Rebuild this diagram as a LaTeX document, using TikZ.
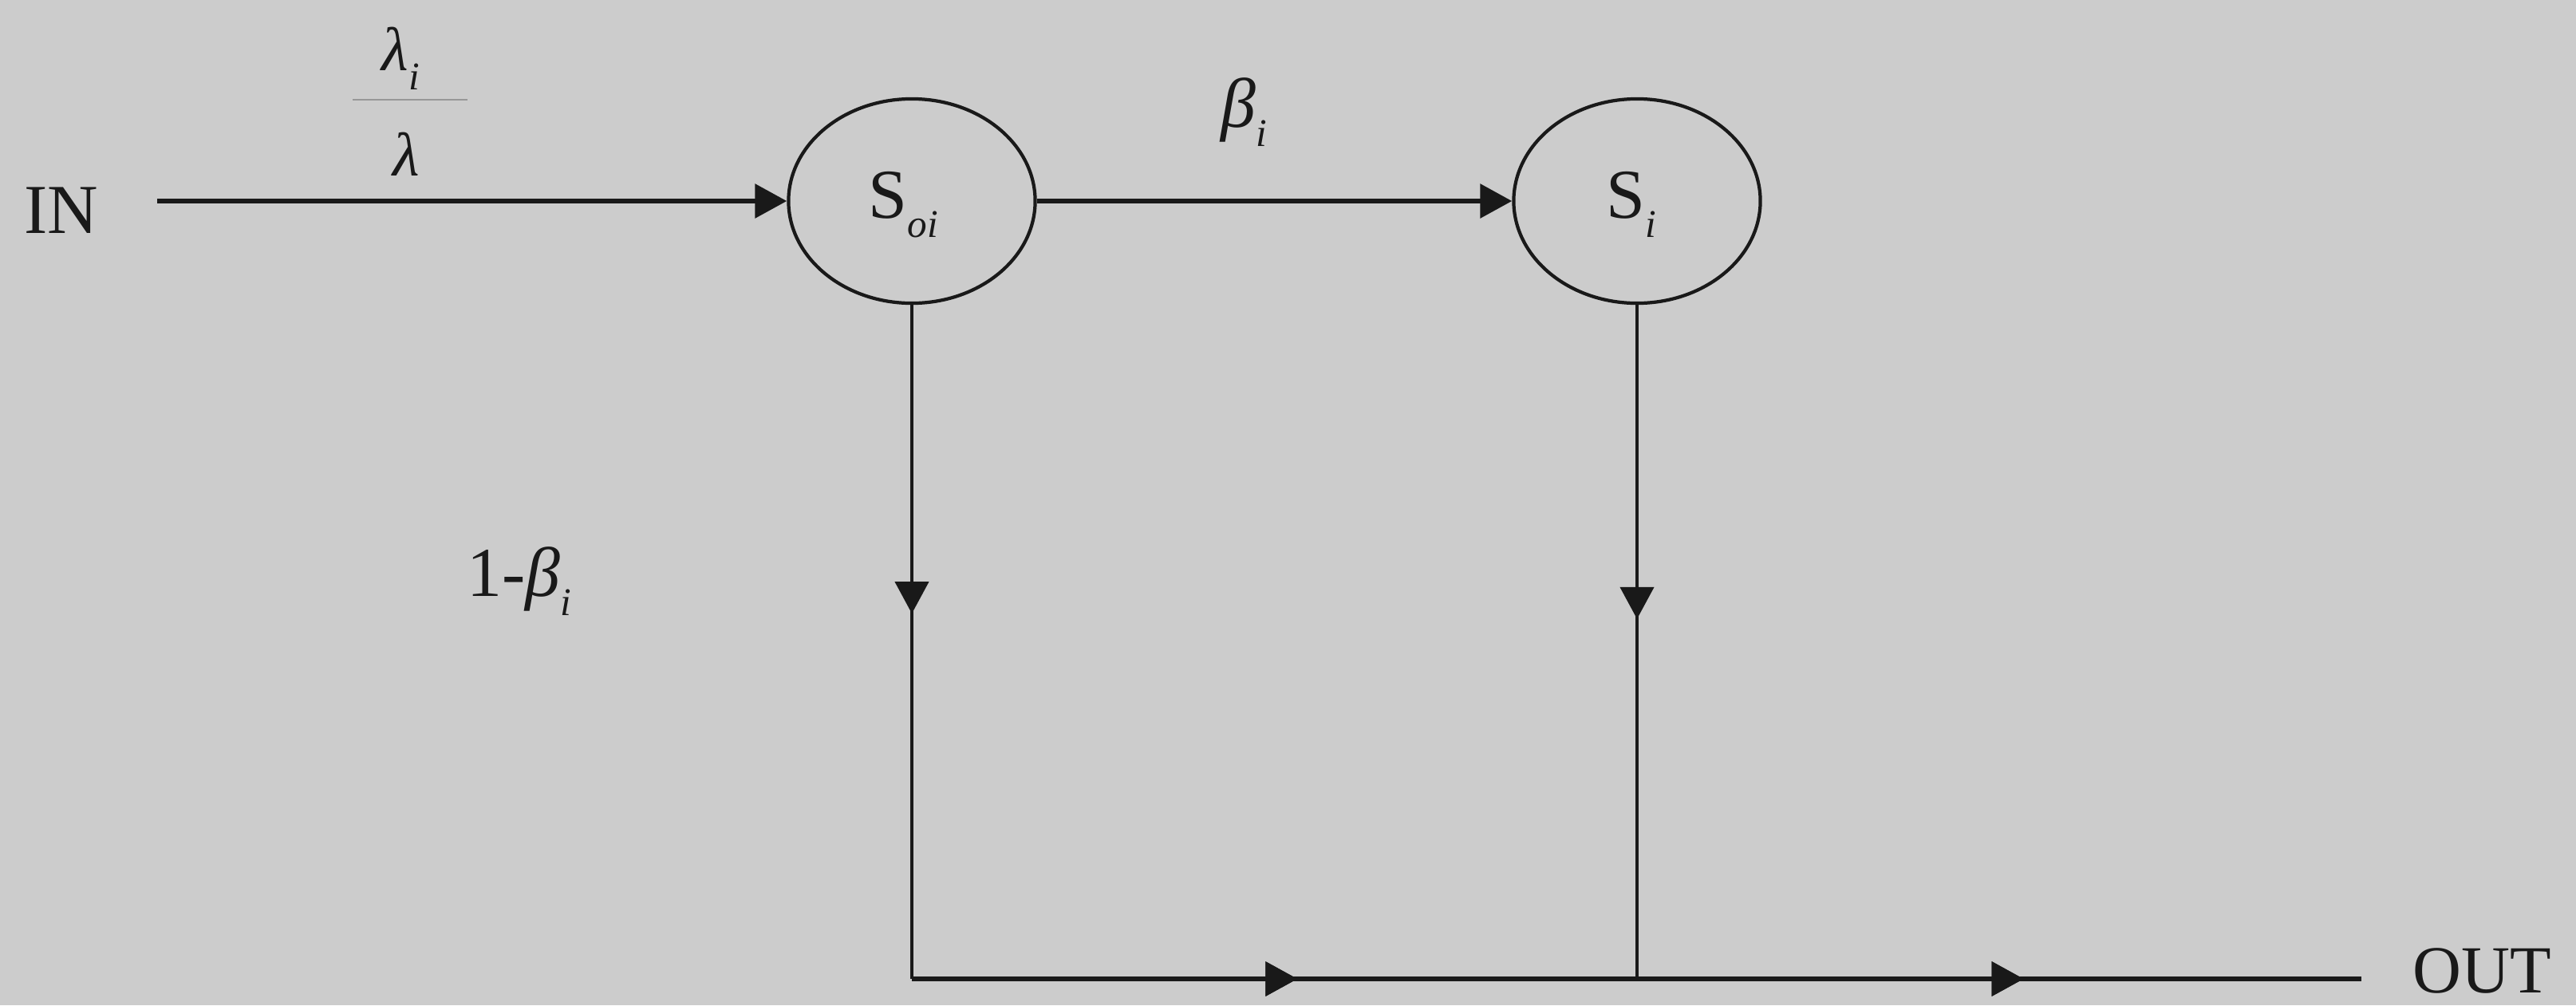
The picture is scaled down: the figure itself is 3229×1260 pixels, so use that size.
\documentclass[tikz,border=0pt]{standalone}
\usepackage{fontspec}
\setmainfont{Liberation Serif}
\usetikzlibrary{arrows.meta,shapes.geometric,decorations.markings}
\definecolor{bg}{RGB}{204,204,204}
\definecolor{ink}{RGB}{25,25,25}
\newcommand{\subsc}[1]{\raisebox{-7pt}{\fontsize{14}{14}\selectfont\itshape #1}}
\begin{document}
\begin{tikzpicture}[x=0.01cm,y=-0.01cm,
  state/.style={ellipse, draw=ink, line width=1.2pt, minimum width=3.09cm, minimum height=2.56cm, inner sep=0pt},
  lbl/.style={font=\fontsize{25}{29}\selectfont, text=ink, inner sep=0pt, anchor=base west},
  flbl/.style={lbl, font=\fontsize{22}{26}\selectfont},
  tipshape/.style={-{Triangle[length=0.4cm,width=0.42cm]}},
  flow/.style={draw=ink, line width=1.8pt, tipshape},
  vline/.style={draw=ink, line width=1.2pt},
  hline/.style={draw=ink, line width=1.8pt},
  midarrow/.style={postaction={decorate}, decoration={markings, mark=at position #1 with {\arrow[ink]{Triangle[length=0.4cm,width=0.42cm]}}}}
]
\useasboundingbox (0,0) rectangle (3229,1260);
\fill[bg] (0,0) rectangle (3229,1260);

% nodes
\node[lbl] (in) at (30,292) {IN};
\node[state] (soi) at (1143,252) {};
\node[lbl] (soit) at (1088,273) {S\subsc{oi}};
\node[state] (si) at (2052,252) {};
\node[lbl] (sit) at (2013,273) {S\subsc{i}};
\node[lbl, font=\fontsize{24}{28}\selectfont] (out) at (3024,1244) {OUT};

% labels
\node[flbl] (lami) at (478,88) {\textit{λ}\subsc{i}};
\coordinate (fl1) at (442,125);
\coordinate (fl2) at (586,125);
\draw[ink!45, line width=0.5pt] (fl1) -- (fl2);
\node[flbl] (lam) at (492,220) {\textit{λ}};
\node[lbl] (beta) at (1530,159) {\textit{β}\subsc{i}};
\node[lbl] (onemb) at (585,747) {1-\textit{β}\subsc{i}};

% coordinates
\coordinate (instart) at (197,252);
\coordinate (j1) at (1143,1227);
\coordinate (j2) at (2052,1227);
\coordinate (outend) at (2960,1227);

% connectors
\draw[flow] (instart) -- (soi.west);
\draw[flow] (soi.east) -- (si.west);
\draw[vline, midarrow=0.458] (soi.south) -- (j1);
\draw[vline, midarrow=0.466] (si.south) -- (j2);
\draw[hline, midarrow=0.266, midarrow=0.767] (j1) -- (outend);
\end{tikzpicture}
\end{document}
